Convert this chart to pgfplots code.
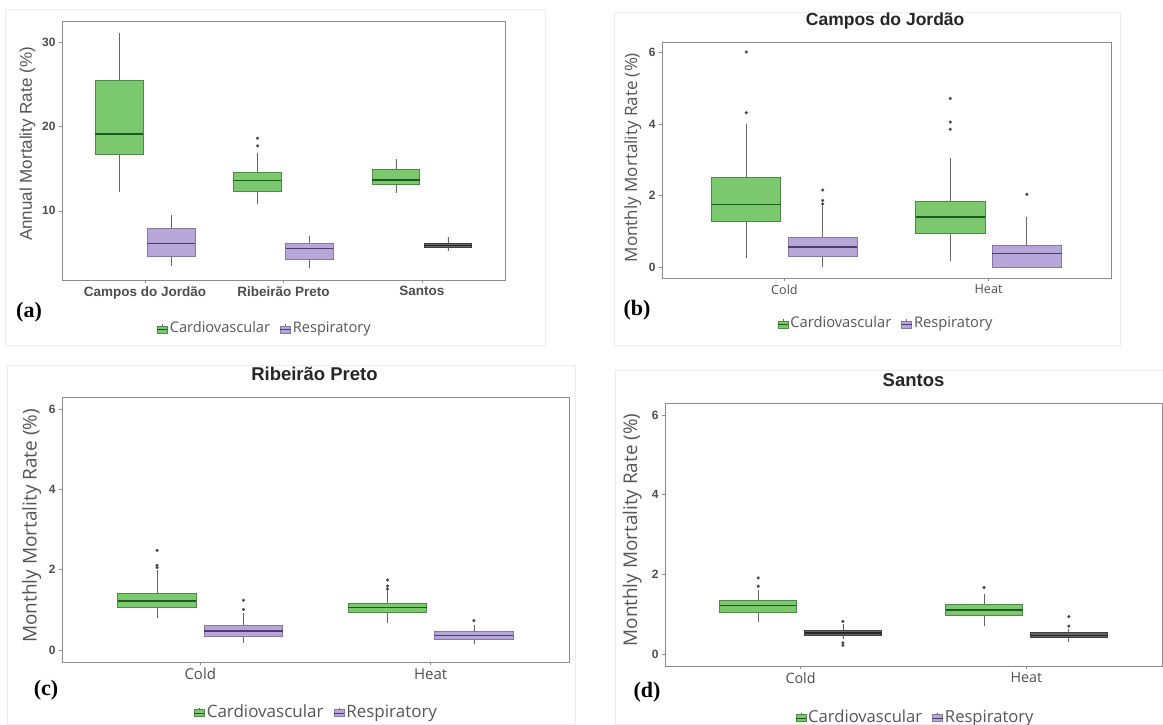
\documentclass[border=0pt]{standalone}
\usepackage{fontspec}
\usepackage{pgfplots}
\pgfplotsset{compat=1.18}
\usepgfplotslibrary{statistics}
\setmainfont{Liberation Sans}
\newfontfamily\osans{Open Sans}
\newfontfamily\lserif{Liberation Serif}
\definecolor{cardioF}{HTML}{7BC86F}
\definecolor{cardioB}{HTML}{4E8A47}
\definecolor{cardioM}{HTML}{1E5B1E}
\definecolor{respF}{HTML}{B7A6D8}
\definecolor{respB}{HTML}{8577A6}
\definecolor{respM}{HTML}{4A3D6E}
\definecolor{whisk}{HTML}{666666}
\definecolor{outc}{HTML}{444444}
\definecolor{framec}{HTML}{8C8C8C}
\definecolor{tickc}{HTML}{4D4D4D}
\definecolor{labc}{HTML}{555555}
\pgfplotsset{
  common box/.style={mark=*, mark size=1.4pt,
    mark options={draw=outc, fill=outc, solid, line width=0.3pt},
    boxplot/draw direction=y,
    boxplot/whisker extend=0,
    boxplot/every whisker/.style={draw=whisk, line width=0.7pt},
    forget plot},
  cbox/.style={common box, boxplot prepared={#1}, draw=cardioB, fill=cardioF, line width=0.8pt,
    boxplot/every median/.style={draw=cardioM, line width=1.6pt}},
  rbox/.style={common box, boxplot prepared={#1}, draw=respB, fill=respF, line width=0.8pt,
    boxplot/every median/.style={draw=respM, line width=1.6pt}},
  dbox/.style={common box, boxplot prepared={#1}, draw=black!75, fill=black!60, line width=1pt,
    boxplot/every median/.style={draw=black!85, line width=1.6pt}},
  panel/.style={scale only axis, anchor=south west,
    axis line style={draw=framec, line width=0.9pt},
    tick style={draw=framec, line width=0.6pt}, tick align=outside, major tick length=3pt,
    xtick pos=bottom, ytick pos=left,
    /pgf/number format/assume math mode=true,
    legend columns=2,
    legend style={draw=none, fill=none, text=labc, anchor=center,
      /tikz/every even column/.append style={column sep=8pt}},
    clip=false},
  monthly/.style={xmin=0.4, xmax=2.6, ymin=-0.3, ymax=6.3,
    xtick={1,2}, xticklabels={Cold,Heat}, ytick={0,2,4,6},
    yticklabel style={font=\bfseries\fontsize{12}{12}\selectfont, text=tickc},
    ylabel={Monthly Mortality Rate (\%)},
    title style={font=\bfseries\fontsize{18.5}{19}\selectfont, text=black!85, anchor=center}},
}
\newcommand{\cardioleg}{\addlegendimage{legend image code/.code={%
  \draw[draw=cardioB, fill=cardioF, line width=0.6pt] (0pt,-5pt) rectangle (10pt,2pt);
  \draw[cardioM, line width=0.8pt] (0pt,-1.5pt)--(10pt,-1.5pt);
  \draw[whisk, line width=0.5pt] (5pt,2pt)--(5pt,4pt);}}
  \addlegendentry{Cardiovascular}}
\newcommand{\respleg}{\addlegendimage{legend image code/.code={%
  \draw[draw=respB, fill=respF, line width=0.6pt] (0pt,-5pt) rectangle (10pt,2pt);
  \draw[respM, line width=0.8pt] (0pt,-1.5pt)--(10pt,-1.5pt);
  \draw[whisk, line width=0.5pt] (5pt,2pt)--(5pt,4pt);}}
  \addlegendentry{Respiratory}}
\begin{document}
\begin{tikzpicture}
\path[use as bounding box] (0pt,0pt) rectangle (1163pt,724pt);
% faint panel frames
\draw[black!7, line width=0.6pt] (5pt,379pt) rectangle (545pt,715pt);
\draw[black!7, line width=0.6pt] (614pt,379pt) rectangle (1120pt,712pt);
\draw[black!7, line width=0.6pt] (7pt,0pt) rectangle (575pt,359pt);
\draw[black!7, line width=0.6pt] (615pt,0pt) rectangle (1163pt,354pt);

% ---------------- (a)
\begin{axis}[panel, at={(62pt,444pt)}, width=443pt, height=259pt,
  xmin=0.4, xmax=3.6, ymin=1.8, ymax=32.5,
  xtick={1,2,3}, xticklabels={Campos do Jordão, Ribeirão Preto, Santos},
  ytick={10,20,30},
  xticklabel style={font=\bfseries\fontsize{13.5}{14}\selectfont, text=tickc},
  yticklabel style={font=\bfseries\fontsize{12}{12}\selectfont, text=tickc},
  ylabel={Annual Mortality Rate (\%)},
  ylabel style={font=\fontsize{17}{17}\selectfont, text=labc, at={(axis description cs:-0.078,0.525)}, anchor=center},
  legend style={at={(axis description cs:0.458,-0.185)}, font=\osans\fontsize{14.6}{15}\selectfont},
]
\addplot[cbox={draw position=0.8125, box extend=0.345, lower whisker=12.2, lower quartile=16.7, median=19.1, upper quartile=25.4, upper whisker=31.1}] coordinates {};
\addplot[rbox={draw position=1.1875, box extend=0.345, lower whisker=3.45, lower quartile=4.6, median=6.15, upper quartile=7.9, upper whisker=9.5}] coordinates {};
\addplot[cbox={draw position=1.8125, box extend=0.345, lower whisker=10.8, lower quartile=12.3, median=13.6, upper quartile=14.5, upper whisker=16.9}] coordinates {(0,17.7) (0,18.6)};
\addplot[rbox={draw position=2.1875, box extend=0.345, lower whisker=3.2, lower quartile=4.2, median=5.55, upper quartile=6.1, upper whisker=7.0}] coordinates {};
\addplot[cbox={draw position=2.8125, box extend=0.345, lower whisker=12.1, lower quartile=13.1, median=13.65, upper quartile=14.9, upper whisker=16.15}] coordinates {};
\addplot[dbox={draw position=3.1875, box extend=0.345, lower whisker=5.24, lower quartile=5.63, median=5.9, upper quartile=6.15, upper whisker=6.9}] coordinates {};
\cardioleg
\respleg
\end{axis}

% ---------------- (b)
\begin{axis}[panel, monthly, at={(662pt,446pt)}, width=449pt, height=236pt,
  xticklabel style={font=\osans\fontsize{12.6}{13}\selectfont, text=tickc},
  ylabel style={font=\osans\fontsize{17}{17}\selectfont, text=labc, at={(axis description cs:-0.065,0.51)}, anchor=center},
  title={Campos do Jordão},
  title style={at={(axis description cs:0.497,1)}, yshift=15pt, font=\bfseries\fontsize{17.5}{18}\selectfont},
  legend style={at={(axis description cs:0.499,-0.19)}, font=\osans\fontsize{14.7}{15}\selectfont},
]
\addplot[cbox={draw position=0.8125, box extend=0.34, lower whisker=0.26, lower quartile=1.29, median=1.76, upper quartile=2.50, upper whisker=4.02}] coordinates {(0,4.32) (0,6.02)};
\addplot[rbox={draw position=1.1875, box extend=0.34, lower whisker=0.0, lower quartile=0.30, median=0.57, upper quartile=0.84, upper whisker=1.71}] coordinates {(0,1.77) (0,1.87) (0,2.16)};
\addplot[cbox={draw position=1.8125, box extend=0.34, lower whisker=0.17, lower quartile=0.94, median=1.40, upper quartile=1.85, upper whisker=3.06}] coordinates {(0,3.86) (0,4.06) (0,4.72)};
\addplot[rbox={draw position=2.1875, box extend=0.34, lower whisker=0.0, lower quartile=0.0, median=0.38, upper quartile=0.62, upper whisker=1.40}] coordinates {(0,2.04)};
\cardioleg
\respleg
\end{axis}

% ---------------- (c)
\begin{axis}[panel, monthly, at={(62pt,62pt)}, width=507pt, height=265pt,
  xticklabel style={font=\osans\fontsize{15}{15}\selectfont, text=tickc},
  ylabel style={font=\osans\fontsize{19}{19}\selectfont, text=labc, at={(axis description cs:-0.06,0.514)}, anchor=center},
  title={Ribeirão Preto},
  title style={at={(axis description cs:0.498,1)}, yshift=17pt},
  legend style={at={(axis description cs:0.502,-0.1875)}, font=\osans\fontsize{17}{17}\selectfont},
]
\addplot[cbox={draw position=0.8125, box extend=0.34, lower whisker=0.79, lower quartile=1.05, median=1.22, upper quartile=1.41, upper whisker=1.98}] coordinates {(0,2.05) (0,2.11) (0,2.48)};
\addplot[rbox={draw position=1.1875, box extend=0.34, lower whisker=0.17, lower quartile=0.35, median=0.47, upper quartile=0.60, upper whisker=0.91}] coordinates {(0,1.01) (0,1.24)};
\addplot[cbox={draw position=1.8125, box extend=0.34, lower whisker=0.66, lower quartile=0.94, median=1.06, upper quartile=1.17, upper whisker=1.49}] coordinates {(0,1.52) (0,1.59) (0,1.74)};
\addplot[rbox={draw position=2.1875, box extend=0.34, lower whisker=0.15, lower quartile=0.27, median=0.36, upper quartile=0.45, upper whisker=0.62}] coordinates {(0,0.73)};
\cardioleg
\respleg
\end{axis}

% ---------------- (d)
\begin{axis}[panel, monthly, at={(665pt,58pt)}, width=497pt, height=263pt,
  xticklabel style={font=\osans\fontsize{14.3}{15}\selectfont, text=tickc},
  ylabel style={font=\osans\fontsize{18.9}{19}\selectfont, text=labc, at={(axis description cs:-0.066,0.517)}, anchor=center},
  title={Santos},
  title style={at={(axis description cs:0.5,1)}, yshift=16.5pt},
  legend style={at={(axis description cs:0.504,-0.193)}, font=\osans\fontsize{16.6}{17}\selectfont},
]
\addplot[cbox={draw position=0.8125, box extend=0.34, lower whisker=0.81, lower quartile=1.05, median=1.22, upper quartile=1.34, upper whisker=1.61}] coordinates {(0,1.70) (0,1.91)};
\addplot[dbox={draw position=1.1875, box extend=0.34, lower whisker=0.38, lower quartile=0.47, median=0.53, upper quartile=0.59, upper whisker=0.75}] coordinates {(0,0.82) (0,0.28) (0,0.22)};
\addplot[cbox={draw position=1.8125, box extend=0.34, lower whisker=0.70, lower quartile=0.97, median=1.11, upper quartile=1.24, upper whisker=1.50}] coordinates {(0,1.67)};
\addplot[dbox={draw position=2.1875, box extend=0.34, lower whisker=0.29, lower quartile=0.41, median=0.47, upper quartile=0.54, upper whisker=0.62}] coordinates {(0,0.70) (0,0.94)};
\cardioleg
\respleg
\end{axis}

% panel letters
\node[font=\lserif\bfseries\fontsize{22}{22}\selectfont] at (29pt,412pt) {(a)};
\node[font=\lserif\bfseries\fontsize{22}{22}\selectfont] at (637pt,414pt) {(b)};
\node[font=\lserif\bfseries\fontsize{22}{22}\selectfont] at (46pt,34pt) {(c)};
\node[font=\lserif\bfseries\fontsize{22}{22}\selectfont] at (647pt,32pt) {(d)};
\end{tikzpicture}
\end{document}
